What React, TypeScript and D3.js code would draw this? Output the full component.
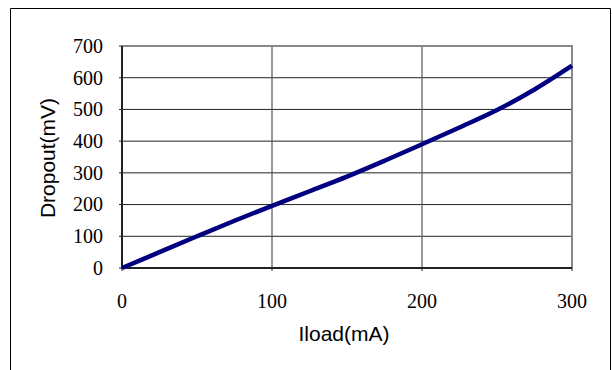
import * as d3 from 'd3';

// load current (mA) vs dropout voltage (mV)
const loadCurrent = [0, 25, 50, 75, 100, 125, 150, 175, 200, 225, 250, 275, 300];
const dropout = [0, 50, 100, 149, 196, 242, 288, 338, 390, 443, 498, 563, 638];

const xTicks = [0, 100, 200, 300];
const yTicks = [0, 100, 200, 300, 400, 500, 600, 700];

const WIDTH = 612;
const HEIGHT = 370;
const margin = { top: 46, right: 40, bottom: 102, left: 122 };

export default function App() {
    const x = d3
        .scaleLinear()
        .domain([0, 300])
        .range([margin.left, WIDTH - margin.right]);
    const y = d3
        .scaleLinear()
        .domain([0, 700])
        .range([HEIGHT - margin.bottom, margin.top]);

    const line = d3
        .line<number>()
        .x((_, i) => x(loadCurrent[i]))
        .y((d) => y(d))
        .curve(d3.curveCatmullRom.alpha(0.5));

    const [x0, x1] = x.range();
    const [y0, y1] = y.range();
    const serif = '"Liberation Serif", "DejaVu Serif", serif';
    const sans = '"Liberation Sans", Arial, sans-serif';

    return (
        <svg
            width={WIDTH}
            height={HEIGHT}
            style={{ position: 'absolute', left: 0, top: 0 }}
        >
            <rect x={0} y={0} width={WIDTH} height={HEIGHT} fill="#fff" />
            {/* outer frame, open at the bottom */}
            <path d={`M10.5,${HEIGHT} V8.5 H610.5 V${HEIGHT}`} fill="none" stroke="#000" />

            {/* grid */}
            {yTicks.slice(1, -1).map((t) => (
                <line key={'h' + t} x1={x0} x2={x1} y1={y(t)} y2={y(t)} stroke="#222" strokeWidth={1} />
            ))}
            {xTicks.slice(1, -1).map((t) => (
                <line key={'v' + t} x1={x(t)} x2={x(t)} y1={y1} y2={y0} stroke="#555" strokeWidth={1.2} />
            ))}

            {/* plot frame */}
            <path d={`M${x0},${y1} H${x1} V${y0}`} fill="none" stroke="#888" strokeWidth={2} />
            <path d={`M${x0},${y1} V${y0} H${x1}`} fill="none" stroke="#222" strokeWidth={2} />
            {yTicks.map((t) => (
                <line key={'yt' + t} x1={x0 - 3} x2={x0} y1={y(t)} y2={y(t)} stroke="#222" />
            ))}
            {xTicks.map((t) => (
                <line key={'xt' + t} x1={x(t)} x2={x(t)} y1={y0} y2={y0 + 3} stroke="#222" />
            ))}

            <path
                d={line(dropout) ?? ''}
                fill="none"
                stroke="#000080"
                strokeWidth={4.5}
                strokeLinejoin="round"
            />

            {/* tick labels */}
            {yTicks.map((t) => (
                <text
                    key={'yl' + t}
                    x={103}
                    y={y(t)}
                    dy="0.34em"
                    textAnchor="end"
                    fontFamily={serif}
                    fontSize={20}
                    fill="#000"
                >
                    {t}
                </text>
            ))}
            {xTicks.map((t) => (
                <text
                    key={'xl' + t}
                    x={x(t)}
                    y={308}
                    textAnchor="middle"
                    fontFamily={serif}
                    fontSize={20}
                    fill="#000"
                >
                    {t}
                </text>
            ))}

            {/* axis titles */}
            <text
                transform="translate(55,158) rotate(-90)"
                textAnchor="middle"
                fontFamily={sans}
                fontSize={21}
                fill="#000"
            >
                Dropout(mV)
            </text>
            <text x={344} y={341} textAnchor="middle" fontFamily={sans} fontSize={21} fill="#000">
                Iload(mA)
            </text>
        </svg>
    );
}
